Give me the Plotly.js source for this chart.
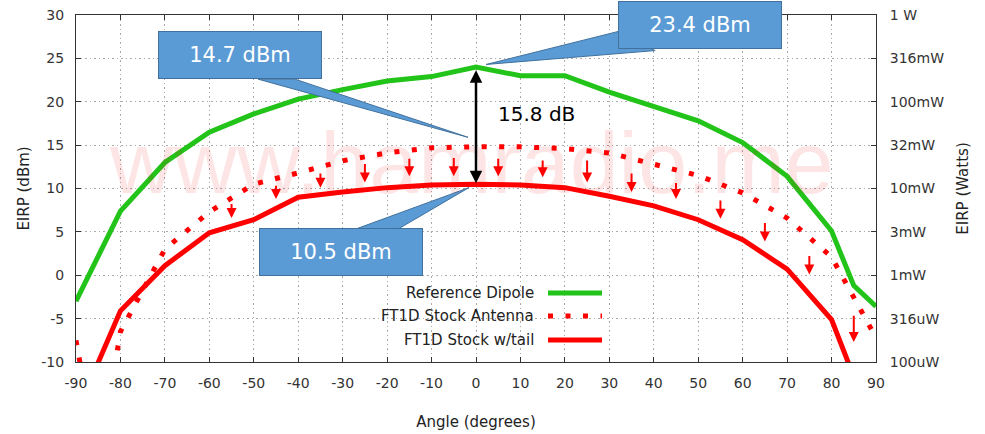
<!DOCTYPE html>
<html>
<head>
<meta charset="utf-8">
<script src="https://cdn.plot.ly/plotly-3.0.1.min.js"></script>
<style>html,body{margin:0;padding:0;background:#fff;}#chart{width:985px;height:434px;}</style>
</head>
<body>
<div id="chart"></div>
<script>
// ---- data ----
var dipoleAngle = [-90,-80,-70,-60,-50,-40,-30,-20,-10,0,10,20,30,40,50,60,70,80,85,90];
var dipole      = [-3.0,7.4,13.0,16.5,18.6,20.3,21.4,22.4,22.9,24.0,23.0,23.0,21.1,19.5,17.8,15.3,11.4,5.1,-1.2,-3.6];

var stockAngle  = [-90,-85,-80,-70,-60,-50,-40,-30,-20,-10,0,10,20,30,40,50,60,70,80,90];
var stock       = [-7.5,-22,-6.5,3.0,7.3,10.5,11.8,13.2,14.1,14.7,14.8,14.8,14.6,14.1,12.8,11.5,9.5,6.6,2.1,-7.2];

var tailAngle   = [-90,-80,-70,-60,-50,-40,-30,-20,-10,0,10,20,30,40,50,60,70,80,90];
var tail        = [-16,-4.1,1.1,4.9,6.4,9.0,9.6,10.1,10.4,10.5,10.4,10.1,9.1,8.0,6.4,4.1,0.7,-5.1,-18.3];

var arrowAngle  = [-55,-45,-35,-25,-15,-5,5,15,25,35,45,55,65,75,85];
var arrowTop    = [8.4,10.5,11.9,13.0,13.6,13.7,13.6,13.4,13.4,11.9,10.8,8.8,6.2,2.4,-4.5];
var arrowBottom = [6.6,8.8,10.1,10.7,11.4,11.4,11.4,11.3,10.7,9.6,8.8,6.5,3.9,0.1,-7.7];

var xTicks      = [-90,-80,-70,-60,-50,-40,-30,-20,-10,0,10,20,30,40,50,60,70,80,90];
var xTickText   = ['-90','-80','-70','-60','-50','-40','-30','-20','-10','0','10','20','30','40','50','60','70','80','90'];
var yTicks      = [-10,-5,0,5,10,15,20,25,30];
var yTickText   = ['-10','-5','0','5','10','15','20','25','30'];
var wattLabels  = ['100uW','316uW','1mW','3mW','10mW','32mW','100mW','316mW','1 W'];

var seriesNames = ['Reference Dipole','FT1D Stock Antenna','FT1D Stock w/tail'];

var GREEN = '#22c41a', RED = '#ff0000', FONT = 'DejaVu Sans, sans-serif';

var traces = [
  {x: dipoleAngle, y: dipole, mode:'lines', line:{color:GREEN, width:5}, name:seriesNames[0], hoverinfo:'skip'},
  {x: stockAngle, y: stock, mode:'lines', line:{color:RED, width:5, dash:'5px,12.5px'}, name:seriesNames[1], hoverinfo:'skip'},
  {x: tailAngle, y: tail, mode:'lines', line:{color:RED, width:5}, name:seriesNames[2], hoverinfo:'skip'},
  {x: tailAngle, y: tail, yaxis:'y2', mode:'lines', line:{width:0, color:'rgba(0,0,0,0)'}, showlegend:false, hoverinfo:'skip'}
];

var annotations = [];
// watermark
annotations.push({xref:'x', yref:'y', x:-1, y:13.0, text:'www.hamradio.me', showarrow:false,
  font:{family:'Liberation Sans, Arial, sans-serif', size:88, color:'rgba(240,0,0,0.10)'}});
// red difference arrows
for (var i = 0; i < arrowAngle.length; i++) {
  annotations.push({xref:'x', yref:'y', axref:'x', ayref:'y', x:arrowAngle[i], y:arrowBottom[i],
    ax:arrowAngle[i], ay:arrowTop[i], text:'', showarrow:true, arrowcolor:RED, arrowwidth:2,
    arrowhead:2, arrowsize:1});
}
// black double arrow at 0 deg
annotations.push({xref:'x', yref:'y', axref:'x', ayref:'y', x:0, y:tail[9]+0.1, ax:0, ay:dipole[9]-0.2,
  text:'', showarrow:true, arrowcolor:'#000', arrowwidth:2.5, arrowhead:2, arrowsize:1, arrowside:'end+start'});
annotations.push({xref:'x', yref:'y', x:13.7, y:18.6, text:'15.8 dB', showarrow:false,
  font:{family:FONT, size:20, color:'#000'}});
// callout boxes
function box(x, y, txt) {
  return {xref:'x', yref:'y', x:x, y:y, text:txt, showarrow:false, width:160, height:44,
    bgcolor:'#5b9bd5', bordercolor:'#41719c', borderwidth:1,
    font:{family:FONT, size:21, color:'#fff'}};
}
annotations.push(box(-53.1, 25.4, '14.7 dBm'));
annotations.push(box(50.5, 28.8, '23.4 dBm'));
annotations.push(box(-30.4, 2.7, '10.5 dBm'));
// legend (text right-aligned, samples to its right)
var legY = [0.199, 0.1326, 0.0634];
for (var j = 0; j < 3; j++) {
  annotations.push({xref:'paper', yref:'paper', x:0.575, y:legY[j], xanchor:'right', yanchor:'middle',
    text:seriesNames[j], showarrow:false, font:{family:FONT, size:15, color:'#222'}});
}

var shapes = [
  // legend background
  {type:'rect', xref:'paper', yref:'paper', x0:0.33, x1:0.67, y0:0.02, y1:0.24, fillcolor:'#fff', line:{width:0}, layer:'between'},
  // callout pointers
  {type:'path', xref:'x', yref:'y', path:'M -49,22.6 L -40.7,22.6 L -1.8,15.9 Z', fillcolor:'#5b9bd5', line:{color:'#41719c', width:1}, layer:'above'},
  {type:'path', xref:'x', yref:'y', path:'M 32,28.1 L 40.3,25.9 L 2.3,24.3 Z', fillcolor:'#5b9bd5', line:{color:'#41719c', width:1}, layer:'above'},
  {type:'path', xref:'x', yref:'y', path:'M -27.2,5.3 L -17.6,5.3 L -1.6,10.1 Z', fillcolor:'#5b9bd5', line:{color:'#41719c', width:1}, layer:'above'},
  // legend samples
  {type:'line', xref:'paper', yref:'paper', x0:0.59, x1:0.6575, y0:legY[0], y1:legY[0], line:{color:GREEN, width:5}},
  {type:'line', xref:'paper', yref:'paper', x0:0.59, x1:0.6575, y0:legY[1], y1:legY[1], line:{color:RED, width:5, dash:'5px,12.5px'}},
  {type:'line', xref:'paper', yref:'paper', x0:0.59, x1:0.6575, y0:legY[2], y1:legY[2], line:{color:RED, width:5}}
];

var axisCommon = {showline:true, linecolor:'#333', linewidth:1, ticks:'inside', ticklen:5, tickcolor:'#333',
  showgrid:true, gridcolor:'#aaa', gridwidth:1, griddash:'1.5px,3px', zeroline:false,
  tickfont:{family:FONT, size:14, color:'#333'}, fixedrange:true};

var layout = {
  width:985, height:434, margin:{l:76, r:109, t:15, b:72},
  paper_bgcolor:'#fff', plot_bgcolor:'#fff', showlegend:false,
  xaxis: Object.assign({}, axisCommon, {range:[-90,90], tickvals:xTicks, ticktext:xTickText, mirror:'ticks', ticklabelstandoff:8,
    title:{text:'Angle (degrees)', font:{family:FONT, size:15, color:'#222'}, standoff:26}}),
  yaxis: Object.assign({}, axisCommon, {range:[-10,30], tickvals:yTicks, ticktext:yTickText, mirror:true, ticklabelstandoff:8,
    title:{text:'EIRP (dBm)', font:{family:FONT, size:15, color:'#222'}, standoff:8}}),
  yaxis2: Object.assign({}, axisCommon, {range:[-10,30], tickvals:yTicks, ticktext:wattLabels, overlaying:'y', side:'right',
    showgrid:false, ticklabelstandoff:10,
    title:{text:'EIRP (Watts)', font:{family:FONT, size:15, color:'#222'}, standoff:14}}),
  annotations: annotations,
  shapes: shapes
};

Plotly.newPlot('chart', traces, layout, {displayModeBar:false, staticPlot:true});
</script>
</body>
</html>
